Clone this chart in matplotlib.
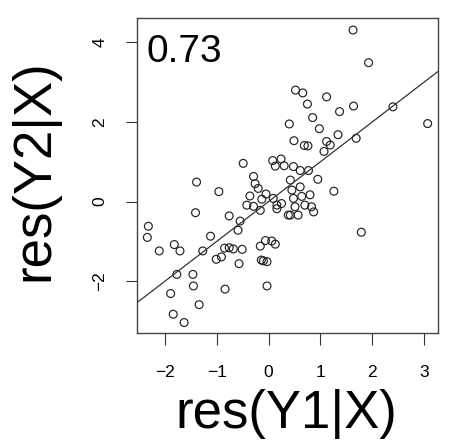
import matplotlib
matplotlib.use("Agg")
import matplotlib.pyplot as plt
import numpy as np

plt.rcParams['font.family'] = ['Liberation Sans', 'DejaVu Sans']

# residuals
res_y1 = [1.63, 1.93, 0.52, 0.66, 0.75, 1.12, 1.37, 1.64, 2.40, 3.07,
          0.40, 0.85, 0.98, 1.34, 1.69, 0.49, 0.69, 0.76, 1.12, 1.19,
          1.07, -0.49, 0.08, 0.24, 0.13, 0.30, 0.48, 0.61, 0.77, -0.29,
          -0.26, -0.20, -0.36, -0.05, -0.42, -0.29, -0.16, -0.13, 0.09, 0.16,
          0.16, 0.25, 0.38, 0.42, 0.61, 0.45, 0.48, 0.64, 0.80, 0.51,
          0.42, 0.57, 0.70, 0.83, 0.87, 0.95, 1.26, 1.79, -1.39, -0.96,
          -1.41, -0.76, -0.55, -0.59, -1.12, -1.27, -1.01, -0.91, -0.85, -0.76,
          -0.68, -0.51, -0.57, -1.82, -1.71, -2.11, -2.32, -2.34, -1.77, -1.46,
          -1.45, -1.89, -0.84, -1.34, -1.84, -1.63, -0.16, -0.06, 0.06, 0.13,
          -0.14, -0.10, -0.03, -0.03]
res_y2 = [4.31, 3.49, 2.80, 2.73, 2.45, 2.63, 2.26, 2.40, 2.38, 1.96,
          1.95, 2.11, 1.83, 1.68, 1.59, 1.53, 1.41, 1.40, 1.51, 1.42,
          1.26, 0.96, 1.03, 1.07, 0.89, 0.90, 0.88, 0.78, 0.78, 0.63,
          0.45, 0.33, 0.14, 0.19, -0.09, -0.12, -0.22, 0.06, 0.08, -0.09,
          -0.18, -0.05, -0.34, 0.54, 0.37, 0.29, 0.08, 0.13, 0.17, -0.13,
          -0.34, -0.34, -0.09, -0.13, -0.26, 0.56, 0.26, -0.77, 0.49, 0.25,
          -0.28, -0.36, -0.49, -0.72, -0.87, -1.24, -1.45, -1.39, -1.17, -1.16,
          -1.19, -1.20, -1.56, -1.08, -1.24, -1.24, -0.62, -0.90, -1.83, -1.83,
          -2.12, -2.31, -2.20, -2.59, -2.83, -3.04, -1.12, -0.98, -0.99, -1.07,
          -1.47, -1.49, -1.51, -2.12]
corr_text = "0.73"
x_ticks = [-2, -1, 0, 1, 2, 3]
y_ticks = [-2, 0, 2, 4]
# fitted line as drawn in the reference
fit_slope = 1.0
fit_intercept = 0.0

x = np.array(res_y1)
y = np.array(res_y2)

fig = plt.figure(figsize=(4.62, 4.48), dpi=100)
ax = fig.add_axes([0.296, 0.256, 0.653, 0.703])

ax.scatter(x, y, s=32, facecolors='none', edgecolors='#222222', linewidths=0.85)
ax.set_xlim(-2.544, 3.278)
ax.set_ylim(-3.31, 4.603)
ax.axline((0, fit_intercept), slope=fit_slope, color='#333333', lw=0.9)

ax.set_xticks(x_ticks)
ax.set_yticks(y_ticks)
ax.tick_params(axis='x', length=8.5, width=0.8, pad=14, labelsize=12.5, color='#333333')
ax.tick_params(axis='y', length=8, width=0.8, pad=13, labelsize=12.5, color='#333333')
for lab in ax.get_yticklabels():
    lab.set_rotation(90)
    lab.set_va('center')
for sp in ax.spines.values():
    sp.set_color('#444444')
    sp.set_linewidth(1.0)

ax.text(0.033, 0.862, corr_text, transform=ax.transAxes, fontsize=28,
        ha='left', va='baseline')

fig.text(0.619, 0.044, "res(Y1|X)", fontsize=38, ha='center', va='baseline')
fig.text(0.075, 0.62, "res(Y2|X)", fontsize=38, ha='center', va='center', rotation=90)

fig.savefig("out.png", dpi=100)
